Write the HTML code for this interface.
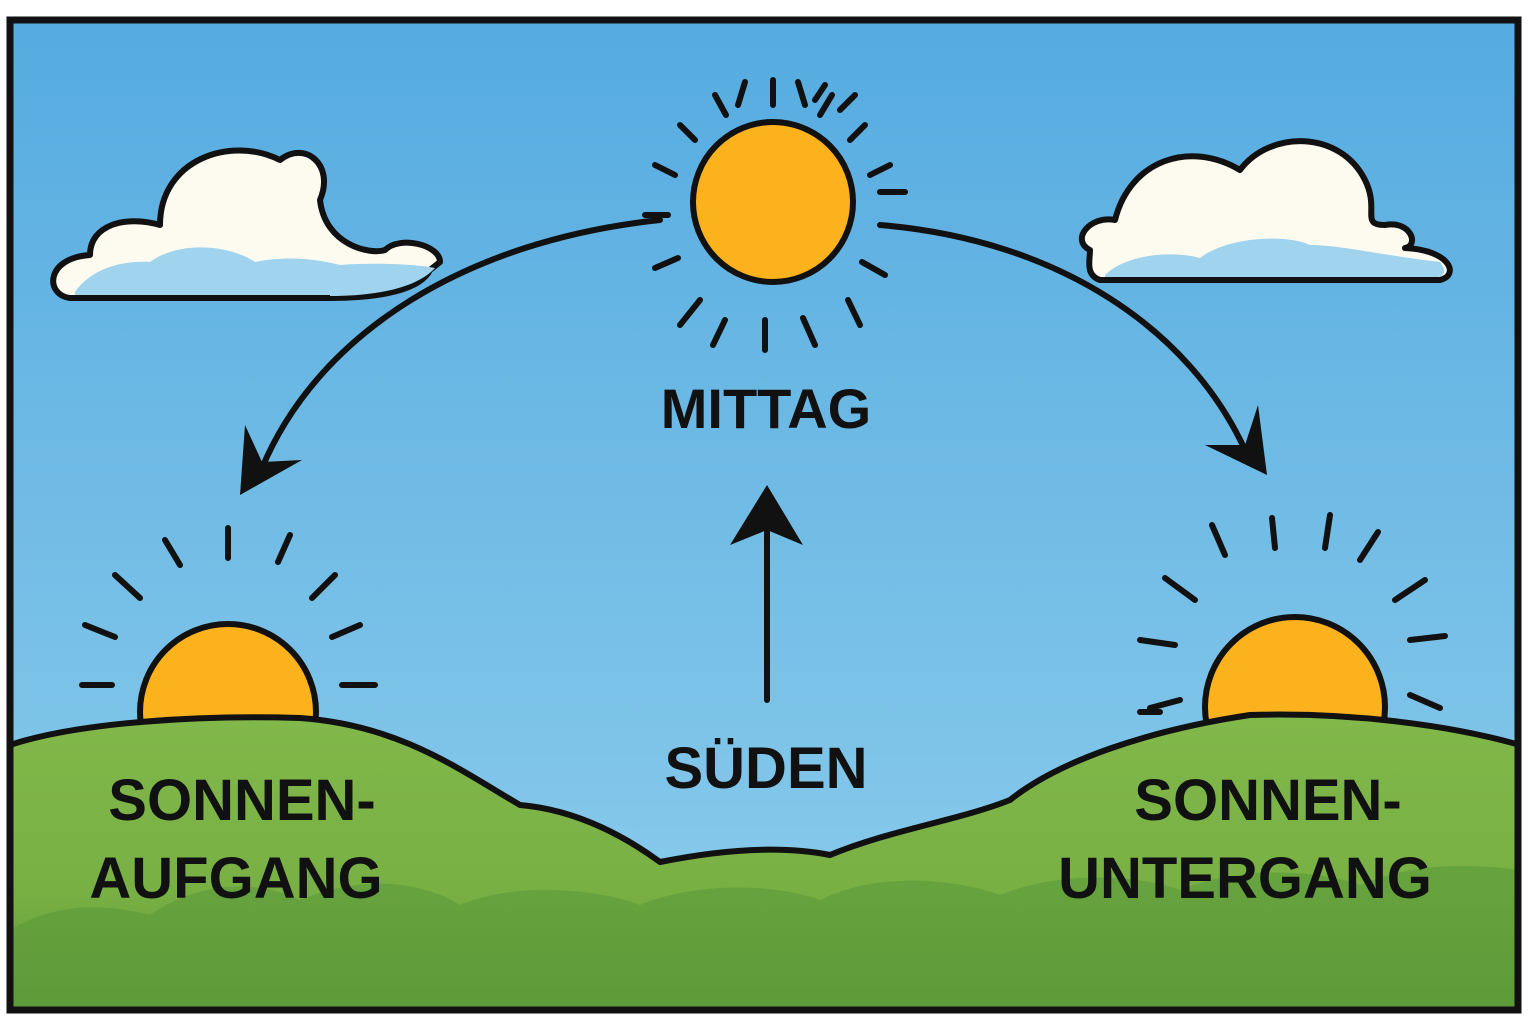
<!DOCTYPE html>
<html><head><meta charset="utf-8"><style>
html,body{margin:0;padding:0;background:#fff;}
svg{display:block}
text{font-family:"Liberation Sans",sans-serif;font-weight:bold;fill:#111;text-anchor:middle}
</style></head><body>
<svg width="1536" height="1024" viewBox="0 0 1536 1024" xmlns="http://www.w3.org/2000/svg">
<defs>
<linearGradient id="sky" x1="0" y1="0" x2="0" y2="1">
<stop offset="0" stop-color="#55abe0"/><stop offset="1" stop-color="#8dcdec"/>
</linearGradient>
<linearGradient id="grass" x1="0" y1="0" x2="0" y2="1">
<stop offset="0" stop-color="#82b84a"/><stop offset="0.6" stop-color="#78b044"/><stop offset="1" stop-color="#5b9638"/>
</linearGradient>
<clipPath id="frame"><rect x="10" y="20" width="1508" height="990"/></clipPath>
</defs>
<rect x="10" y="20" width="1508" height="990" fill="url(#sky)"/>
<g clip-path="url(#frame)">
<!-- clouds -->
<g stroke="#111" stroke-width="6" stroke-linejoin="round" stroke-linecap="round">
<path d="M70 298 C45 295 45 258 90 255 C90 225 125 215 160 225 C160 160 230 135 280 160 C305 140 335 165 320 200 C325 245 370 255 385 250 C400 235 440 245 440 262 L430 270 C420 290 380 298 330 298 Z" fill="#fdfaf0"/>
<path d="M1090 250 C1070 240 1090 215 1115 220 C1130 160 1190 140 1240 170 C1270 130 1340 130 1365 180 C1380 210 1360 225 1385 225 C1410 220 1420 245 1405 248 C1450 250 1460 275 1440 280 L1100 280 C1085 275 1090 260 1090 250 Z" fill="#fdfaf0"/>
</g>
<path d="M75 292 C90 270 120 260 150 262 C180 240 230 245 255 262 C290 255 320 260 340 265 C380 262 420 265 435 268 C415 290 370 296 330 296 L75 296 Z" fill="#9fd3ee"/>
<path d="M1105 275 C1125 255 1170 250 1200 258 C1230 235 1290 235 1310 245 C1340 245 1380 255 1440 262 C1450 275 1440 278 1430 278 L1105 278 Z" fill="#9fd3ee"/>
<path d="M70 298 L330 298 M1100 280 L1440 280" stroke="#111" stroke-width="6" fill="none"/>
<!-- suns -->
<g stroke="#111" stroke-width="6" stroke-linecap="round">
<circle cx="773" cy="202" r="80" fill="#fbb21c"/>
<circle cx="228" cy="712" r="88" fill="#fbb21c"/>
<circle cx="1295" cy="707" r="90" fill="#fbb21c"/>
</g>
<g stroke="#111" stroke-width="6" stroke-linecap="round">
<!-- noon rays -->
<path d="M773 80 L773 105 M715 95 L726 115 M832 95 L820 115 M680 125 L695 140 M865 125 L850 140 M655 165 L675 175 M890 165 L870 175 M645 215 L668 215 M880 192 L905 192 M655 268 L678 258 M862 262 L885 275 M680 325 L700 300 M848 300 L860 325 M713 345 L725 320 M765 320 L765 350 M803 318 L815 345 M798 82 L805 105 M745 82 L738 105 M825 85 L815 100 M855 95 L840 110"/>
<!-- left rays -->
<path d="M228 528 L228 558 M165 540 L180 565 M290 535 L278 562 M115 575 L140 598 M335 575 L312 598 M85 625 L115 637 M360 625 L332 637 M82 685 L112 685 M342 685 L375 685"/>
<!-- right rays -->
<path d="M1272 518 L1275 548 M1212 525 L1225 555 M1330 515 L1325 548 M1378 532 L1360 560 M1165 578 L1195 600 M1425 580 L1395 600 M1140 640 L1175 645 M1445 636 L1410 640 M1150 708 L1180 700 M1410 695 L1440 708 M1140 712 L1160 712"/>
</g>
<!-- arcs -->
<g stroke="#111" stroke-width="6" fill="none" stroke-linecap="round" stroke-linejoin="round">
<path d="M660 220 C470 240 320 330 262 468"/>
<path d="M880 225 C1060 240 1190 330 1245 450"/>
<path d="M767 700 L767 510"/>
</g>
<g fill="#111">
<path d="M240 495 L245 425 L262 462 L302 460 Z"/>
<path d="M1267 475 L1258 405 L1245 445 L1205 445 Z"/>
<path d="M767 485 L803 545 L767 530 L730 545 Z"/>
</g>
<!-- hills -->
<path d="M10 745 C80 722 200 715 300 718 C400 725 460 770 520 805 C580 810 630 840 660 862 C720 850 780 845 830 855 C890 830 960 820 1010 800 C1060 760 1150 730 1250 715 C1350 712 1450 725 1520 745 L1520 1012 L10 1012 Z" fill="url(#grass)" stroke="#111" stroke-width="6" stroke-linejoin="round"/>
<path d="M10 930 C60 900 110 905 150 915 C200 880 260 880 300 900 C360 875 420 880 460 905 C520 880 600 890 640 905 C700 880 780 885 820 900 C880 870 960 880 1000 895 C1060 870 1140 875 1180 890 C1240 865 1320 870 1360 885 C1420 860 1480 865 1520 870 L1520 1012 L10 1012 Z" fill="#5e9c3a" opacity="0.7"/>
</g>
<rect x="10" y="20" width="1508" height="990" fill="none" stroke="#111" stroke-width="7"/>
<!-- labels -->
<text x="766" y="428" font-size="56">MITTAG</text>
<text x="766" y="788" font-size="58">SÜDEN</text>
<text x="242" y="820" font-size="58">SONNEN-</text>
<text x="236" y="898" font-size="58">AUFGANG</text>
<text x="1268" y="820" font-size="58">SONNEN-</text>
<text x="1245" y="898" font-size="58">UNTERGANG</text>
</svg>
</body></html>
